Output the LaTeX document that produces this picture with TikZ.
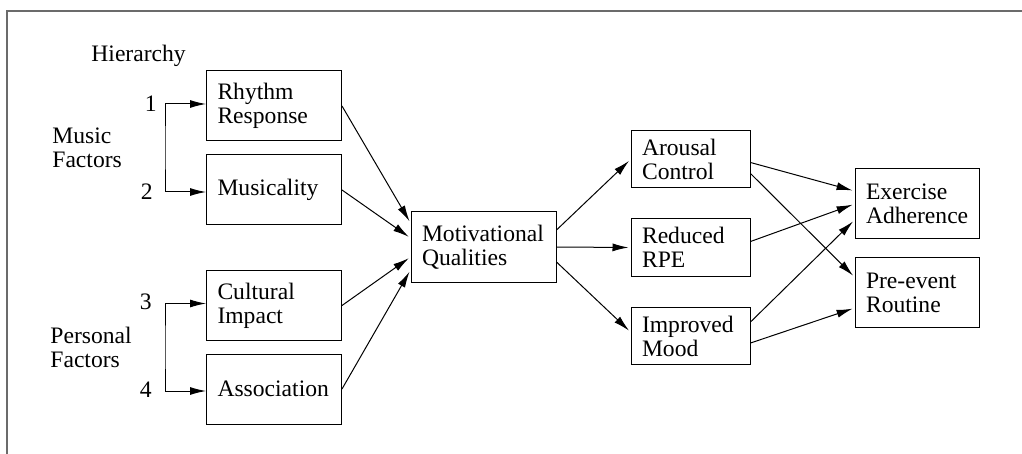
\documentclass[tikz,border=0pt]{standalone}
\usepackage{fontspec}
\setmainfont{Liberation Serif}
\usetikzlibrary{arrows.meta}

\begin{document}
\begin{tikzpicture}[x=0.5pt,y=-0.5pt,
  box/.style={draw,line width=0.5pt,align=left,inner xsep=5.5pt,inner ysep=0pt,minimum height=35pt,font=\fontsize{11.8}{12}\selectfont},
  fac/.style={box,text width=56.5pt},
  mot/.style={box,text width=61.5pt},
  eff/.style={box,text width=48.5pt,minimum height=28.5pt},
  res/.style={box,text width=51pt},
  lab/.style={align=left,inner sep=0pt,font=\fontsize{11.8}{12}\selectfont},
  num/.style={anchor=base east,inner sep=0pt,font=\fontsize{11.8}{12}\selectfont},
  link/.style={-{Latex[length=8pt,width=4pt]},line width=0.5pt,shorten >=1pt},
  pair/.style={{Latex[length=8pt,width=4pt]}-{Latex[length=8pt,width=4pt]},line width=0.5pt},
  rim/.style={draw=black!58,line width=1pt}]
\useasboundingbox (0,0) rectangle (1022,454);
\draw[rim] (7,454) |- (1022,11);
\node[lab,anchor=base west] (hier) at (91,62) {Hierarchy};
\node[lab,anchor=west] (music) at (52,148) {Music\\Factors};
\node[lab,anchor=west] (pers) at (50,347) {Personal\\Factors};
\node[num] (n1) at (157,112) {1};
\node[num] (n2) at (153,200) {2};
\node[num] (n3) at (152,309) {3};
\node[num] (n4) at (152,397) {4};
\node[fac] (rhythm) at (274,106) {Rhythm\\Response};
\node[fac] (musical) at (274,190) {Musicality};
\node[fac] (cultural) at (274,305.5) {Cultural\\Impact};
\node[fac] (assoc) at (274,389) {Association};
\node[mot] (motiv) at (483.5,247) {Motivational\\Qualities};
\node[eff] (arousal) at (690.5,159.5) {Arousal\\Control};
\node[eff] (rpe) at (690.5,247.5) {Reduced\\RPE};
\node[eff] (mood) at (690.5,336) {Improved\\Mood};
\node[res] (adher) at (917,204) {Exercise\\Adherence};
\node[res] (routine) at (917,292.5) {Pre-event\\Routine};
\coordinate (k12) at (165,148);
\coordinate (k34) at (165,347);
\draw[pair] ([yshift=1pt]rhythm.west) -| (k12) |- ([yshift=-1pt]musical.west);
\draw[pair] ([yshift=1pt]cultural.west) -| (k34) |- ([yshift=-1pt]assoc.west);
\draw[link] (rhythm.east) -- ([yshift=12pt]motiv.west);
\draw[link] (musical.east) -- ([yshift=4.5pt]motiv.west);
\draw[link] (cultural.east) -- ([yshift=-5pt]motiv.west);
\draw[link] (assoc.east) -- ([yshift=-11.5pt]motiv.west);
\draw[link] ([yshift=8.5pt]motiv.east) -- (arousal.west);
\draw[link] (motiv.east) -- (rpe.west);
\draw[link] ([yshift=-7.5pt]motiv.east) -- ([yshift=2pt]mood.west);
\draw[link] ([yshift=-1.5pt]arousal.east) -- ([yshift=6.5pt]adher.west);
\draw[link] ([yshift=-7pt]arousal.east) -- ([yshift=7.75pt]routine.west);
\draw[link] ([yshift=3pt]rpe.east) -- (adher.west);
\draw[link] ([yshift=7pt]mood.east) -- ([yshift=-8pt]adher.west);
\draw[link] ([yshift=-3.5pt]mood.east) -- ([yshift=-7.75pt]routine.west);
\end{tikzpicture}
\end{document}
